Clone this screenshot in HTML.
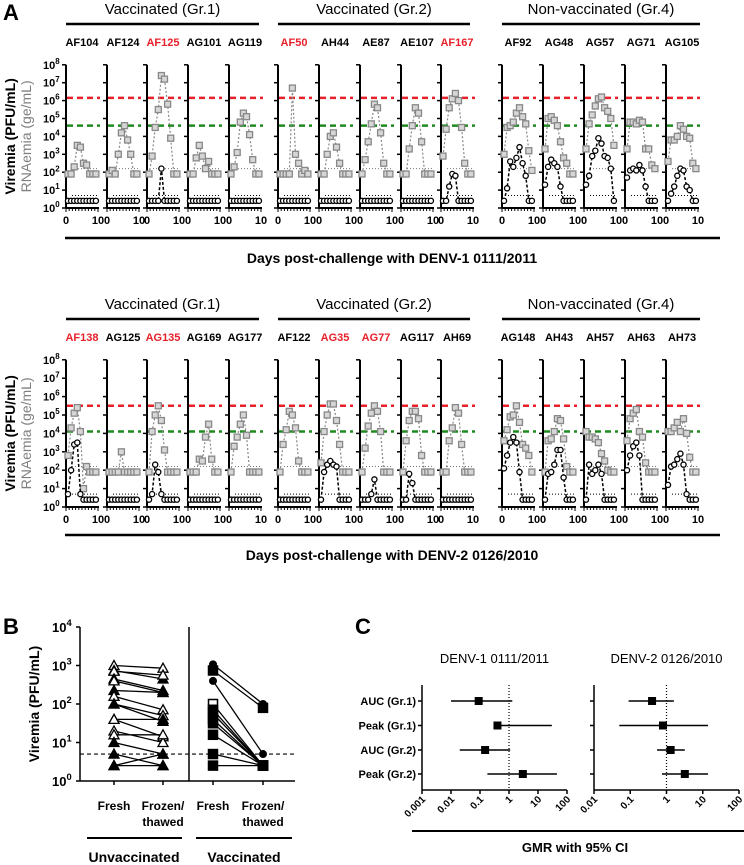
<!DOCTYPE html>
<html><head><meta charset="utf-8"><style>
body{margin:0;background:#fff}
svg{display:block;font-family:"Liberation Sans",Arial,sans-serif}
</style></head><body>
<svg id="fig" width="744" height="865" viewBox="0 0 744 865" xmlns="http://www.w3.org/2000/svg"></svg>
<script>
// ---------- Panel A data (log10 values) ----------
const topNames=["AF104","AF124","AF125","AG101","AG119","AF50","AH44","AE87","AE107","AF167","AF92","AG48","AG57","AG71","AG105"];
const topRed=[false,false,true,false,false,true,false,false,false,true,false,false,false,false,false];
const topRNA=[
[1.9,1.9,2.3,3.5,3.4,2.5,2.4,1.9,1.9,1.9],
[1.9,2.1,1.9,3.0,4.2,4.6,3.8,3.0,1.9,1.9],
[1.9,2.9,4.5,5.5,7.4,7.2,5.8,3.9,1.9,1.9],
[1.9,1.9,2.8,3.5,2.9,2.2,2.6,1.9,1.9,1.9],
[1.9,2.3,3.1,4.8,5.3,5.1,4.1,2.7,1.9,1.9],
[1.9,1.9,1.9,1.9,6.7,3.0,2.5,1.9,2.1,1.9],
[1.9,1.9,3.0,4.0,4.2,3.4,2.5,1.9,1.9,1.9],
[1.9,2.7,3.7,4.7,5.8,5.6,4.2,2.5,1.9,1.9],
[1.9,1.9,3.3,4.6,5.6,5.3,3.7,1.9,1.9,1.9],
[2.9,4.4,5.6,6.1,6.4,6.0,4.5,2.5,1.9,1.9],
[3.0,4.5,4.6,4.8,5.3,5.6,5.1,4.7,3.2,2.1],
[3.3,5.0,5.1,4.9,4.6,3.7,2.8,2.5,1.9,1.9],
[3.3,4.7,5.2,5.7,6.1,6.2,5.6,5.4,5.0,3.5],
[3.3,4.8,4.8,4.7,4.9,4.8,3.3,3.3,2.4,2.2],
[2.6,3.8,3.8,4.0,4.6,4.4,4.0,3.9,2.5,2.2]];
const topVir=[
[.4,.4,.4,.4,.4,.4,.4,.4,.4,.4],
[.4,.4,.4,.4,.4,.4,.4,.4,.4,.4],
[.4,.4,.4,.4,2.2,.4,.4,.4,.4,.4],
[.4,.4,.4,.4,.4,.4,.4,.4,.4,.4],
[.4,.4,.4,.4,.4,.4,.4,.4,.4,.4],
[.4,.4,.4,.4,.4,.4,.4,.4,.4,.4],
[.4,.4,.4,.4,.4,.4,.4,.4,.4,.4],
[.4,.4,.4,.4,.4,.4,.4,.4,.4,.4],
[.4,.4,.4,.4,.4,.4,.4,.4,.4,.4],
[.4,.4,1.2,1.9,1.8,.4,.4,.4,.4,.4],
[.4,1.1,2.6,2.3,2.8,3.4,2.5,1.8,.4,.4],
[1.3,2.3,2.7,2.5,2.3,1.2,.4,.4,.4,.4],
[1.3,1.8,2.9,3.2,3.9,3.6,2.9,2.8,2.2,.4],
[1.7,2.1,2.2,2.1,2.4,2.1,1.2,.4,.4,.4],
[.4,.8,1.2,1.8,2.2,2.1,1.2,1.0,.4,.4]];
const botNames=["AF138","AG125","AG135","AG169","AG177","AF122","AG35","AG77","AG117","AH69","AG148","AH43","AH57","AH63","AH73"];
const botRed=[true,false,true,false,false,false,true,true,false,false,false,false,false,false,false];
const botRNA=[
[2.8,4.3,5.1,5.4,4.1,1.0,2.2,1.9,1.9,1.9],
[1.9,1.9,1.9,1.9,3.0,1.9,1.9,1.9,1.9,1.9],
[1.9,4.1,5.0,5.5,4.7,3.1,1.9,1.9,1.9,1.9],
[1.9,1.9,1.9,2.6,2.5,3.8,4.5,2.6,1.9,1.9],
[1.9,3.3,3.8,4.5,5.0,3.9,1.9,1.9,1.9,1.9],
[1.9,3.4,4.2,5.2,5.0,4.3,2.5,1.9,1.9,1.9],
[2.4,4.1,5.0,5.6,5.6,4.7,3.4,1.9,1.9,1.9],
[1.9,3.2,4.4,5.1,5.5,5.2,4.1,1.9,1.9,1.9],
[1.9,3.6,4.7,5.2,5.2,4.8,2.8,1.9,1.9,1.9],
[1.9,1.9,3.6,4.3,5.4,5.1,3.4,1.9,1.9,1.9],
[3.6,4.2,4.9,5.0,5.5,4.6,3.4,3.2,2.8,1.9],
[1.9,3.6,3.7,4.1,4.8,4.7,3.7,2.2,1.9,1.9],
[4.1,3.8,3.8,3.7,3.5,2.9,2.5,2.0,1.9,1.9],
[3.6,4.8,5.1,5.3,4.1,3.8,2.4,1.9,1.9,1.9],
[4.1,4.1,4.3,4.6,4.1,4.8,4.0,2.7,1.9,1.9]];
const botVir=[
[.7,2.0,3.4,3.5,.7,.4,.4,.4,.4,.4],
[.4,.4,.4,.4,.4,.4,.4,.4,.4,.4],
[.4,.7,2.3,1.9,.7,.4,.4,.4,.4,.4],
[.4,.4,.4,.4,.4,.4,.4,.4,.4,.4],
[.4,.4,.4,.4,.4,.4,.4,.4,.4,.4],
[.4,.4,.4,.4,.4,.4,.4,.4,.4,.4],
[.4,1.9,2.3,2.5,2.3,2.2,.4,.4,.4,.4],
[.4,.4,.4,.7,1.5,.4,.4,.4,.4,.4],
[.4,.4,1.8,1.3,.4,.4,.4,.4,.4,.4],
[.4,.4,.4,.4,.4,.4,.4,.4,.4,.4],
[2.1,2.8,3.5,3.8,3.5,1.9,.4,.4,.4,.4],
[.4,1.8,1.9,2.3,3.1,3.1,1.6,.4,.4,.4],
[.4,2.3,1.8,2.0,2.3,1.8,.4,.4,.4,.4],
[2.0,2.8,3.3,3.5,2.8,.4,.4,.4,.4,.4],
[1.2,2.2,2.3,2.6,2.9,2.3,.7,.4,.4,.4]];
const days=[1,2,3,4,5,6,7,8,9,10];
const topThresh=[6.15,4.6];
const botThresh=[5.5,4.1];
// ---------- Panel B data (log10) ----------
const bUnvFresh=[3.0,2.87,2.85,2.65,2.6,2.35,2.2,2.0,2.0,1.6,1.6,1.3,1.2,1.0,0.7,0.4,0.4];
const bUnvFrozen=[2.93,2.65,2.75,2.35,2.3,2.3,1.85,1.7,1.55,1.6,1.15,1.0,1.2,0.7,0.4,0.7,0.4];
const bUnvShape=["to","tf","to","tf","to","tf","to","to","tf","tf","to","to","to","tf","tf","tf","tf"];
const bVacFresh=[3.03,2.87,2.6,2.0,1.85,1.75,1.6,1.5,1.2,0.7,0.4];
const bVacFrozen=[2.0,1.9,0.7,0.4,0.4,0.4,0.4,0.4,0.4,0.4,0.4];
const bVacShape=["c","s","c","so","s","s","s","s","s","s","s"];
const bLOD=0.7;
// ---------- Panel C data ----------
const cRows=["AUC (Gr.1)","Peak (Gr.1)","AUC (Gr.2)","Peak (Gr.2)"];
const c1Est=[0.09,0.4,0.15,3];
const c1Lo=[0.01,0.4,0.02,0.18];
const c1Hi=[1.3,30,1.1,45];
const c2Est=[0.4,0.8,1.3,3.2];
const c2Lo=[0.09,0.05,0.55,0.75];
const c2Hi=[1.6,14,3.2,14];

const S=document.getElementById('fig');
const NS="http://www.w3.org/2000/svg";
function mk(tag,attrs,parent){const e=document.createElementNS(NS,tag);for(const k in attrs)e.setAttribute(k,attrs[k]);(parent||S).appendChild(e);return e;}
function txt(x,y,s,attrs,parent){const t=mk('text',Object.assign({x:x,y:y},attrs),parent);t.textContent=s;return t;}
function pow(x,y,e,size,anchorEnd,parent){const t=mk('text',{x:x,y:y,'font-size':size,'font-weight':'bold','text-anchor':anchorEnd?'end':'start'},parent);
 const a=mk('tspan',{},t);a.textContent='10';const b=mk('tspan',{dy:-size*0.45,'font-size':size*0.72},t);b.textContent=String(e);return t;}

// Panel letters
let L;
L=txt(3,20,"A",{'font-size':22,'font-weight':'bold'});

L=txt(3,634,"B",{'font-size':22,'font-weight':'bold'});

L=txt(355,634,"C",{'font-size':22,'font-weight':'bold'});


const axesX=[66,107,147,188,229,278,319,360,401,441,502,543,584,625,666];
function drawRow(cfg){
 const g=mk('g',{});
 
 
 const y0=cfg.y0,dec=cfg.dec;
 const Y=v=>y0-v*dec;
 const X=(i,d)=>axesX[i]+2+(d-1)*3.1;
 const groups=[["Vaccinated (Gr.1)",66,259],["Vaccinated (Gr.2)",278,470],["Non-vaccinated (Gr.4)",502,700]];
 groups.forEach(gr=>{
  const t=txt((gr[1]+gr[2])/2,cfg.ty,gr[0],{'font-size':15,'text-anchor':'middle'},g);
  
  
  const l=mk('line',{x1:gr[1],x2:gr[2],y1:cfg.ty+10,y2:cfg.ty+10,stroke:'#000','stroke-width':2.5},g);
  
  
 });
 const v1=txt(0,0,"Viremia (PFU/mL)",{'font-size':14,'font-weight':'bold','text-anchor':'middle',transform:`translate(15,${y0-4*dec}) rotate(-90)`},g);
 
 
 const v2=txt(0,0,"RNAemia (ge/mL)",{'font-size':14,fill:'#808080','text-anchor':'middle',transform:`translate(31,${y0-4*dec}) rotate(-90)`},g);
 
 
 for(let e=0;e<=8;e++){const t=pow(43,Y(e)+4,e,11,false,g);}
 cfg.names.forEach((nm,i)=>{
  const x0=axesX[i];
  const sub=mk('g',{},g);
  
  
  const lab=txt(x0+16,cfg.ty+32,nm,{'font-size':11,'font-weight':'bold','text-anchor':'middle',fill:cfg.red[i]?'#e8202a':'#000'},sub);
  
  
  mk('line',{x1:x0,x2:x0,y1:Y(8),y2:Y(0),stroke:'#000','stroke-width':2},sub);
  mk('line',{x1:x0,x2:x0+33,y1:Y(0),y2:Y(0),stroke:'#000','stroke-width':2},sub);
  for(let e=0;e<=8;e++)mk('line',{x1:x0-4,x2:x0,y1:Y(e),y2:Y(e),stroke:'#000','stroke-width':1.5},sub);
  for(let d=0;d<=10;d++)mk('line',{x1:x0+d*3.2,x2:x0+d*3.2,y1:Y(0),y2:Y(0)+(d%10==0?4:3),stroke:'#000','stroke-width':1},sub);
  txt(x0,Y(0)+16,"0",{'font-size':11,'font-weight':'bold','text-anchor':'middle'},sub);
  txt(x0+32,Y(0)+16,"10",{'font-size':11,'font-weight':'bold','text-anchor':'middle'},sub);
  const r=mk('line',{x1:x0+1,x2:x0+34,y1:Y(cfg.th[0]),y2:Y(cfg.th[0]),stroke:'#e8202a','stroke-width':2.5,'stroke-dasharray':'6,4'},sub);
  
  
  const gl=mk('line',{x1:x0+1,x2:x0+34,y1:Y(cfg.th[1]),y2:Y(cfg.th[1]),stroke:'#1f8a1f','stroke-width':2.5,'stroke-dasharray':'6,4'},sub);
  
  
  mk('line',{x1:x0+6,x2:x0+32,y1:Y(2.2),y2:Y(2.2),stroke:'#777','stroke-width':1,'stroke-dasharray':'1,2'},sub);
  mk('line',{x1:x0+6,x2:x0+32,y1:Y(0.7),y2:Y(0.7),stroke:'#000','stroke-width':1,'stroke-dasharray':'1,2'},sub);
  const rna=cfg.rna[i],vir=cfg.vir[i];
  const rp=mk('polyline',{points:days.map((d,k)=>X(i,d)+','+Y(rna[k])).join(' '),fill:'none',stroke:'#888','stroke-width':1.2,'stroke-dasharray':'2,2'},sub);
  
  
  days.forEach((d,k)=>{const m=mk('rect',{x:X(i,d)-3,y:Y(rna[k])-3,width:6,height:6,fill:'#d6d6d6',stroke:'#888','stroke-width':1.3},sub);
   });
  const vp=mk('polyline',{points:days.map((d,k)=>X(i,d)+','+Y(vir[k])).join(' '),fill:'none',stroke:'#000','stroke-width':1.5,'stroke-dasharray':'3,2'},sub);
  
  
  days.forEach((d,k)=>{const m=mk('circle',{cx:X(i,d),cy:Y(vir[k]),r:2.6,fill:'#fff',stroke:'#000','stroke-width':1.3},sub);
   });
 });
 const bl=mk('line',{x1:65,x2:720,y1:cfg.by,y2:cfg.by,stroke:'#000','stroke-width':2.5},g);
 
 
 const xt=txt(392,cfg.by+25,cfg.xtitle,{'font-size':14,'font-weight':'bold','text-anchor':'middle'},g);
 
 
}
drawRow({name:'panel-a-denv1',y0:208,dec:17.9,ty:14,names:topNames,red:topRed,rna:topRNA,vir:topVir,th:topThresh,by:238,xtitle:"Days post-challenge with DENV-1 0111/2011"});
drawRow({name:'panel-a-denv2',y0:507,dec:18.4,ty:309,names:botNames,red:botRed,rna:botRNA,vir:botVir,th:botThresh,by:535,xtitle:"Days post-challenge with DENV-2 0126/2010"});

// ---------- Panel B ----------
(function(){
 const g=mk('g',{});
 
 
 const Y=v=>781-v*38.5;
 const xs=[114,163,213,263];
 mk('line',{x1:80,x2:80,y1:Y(4),y2:Y(0),stroke:'#000','stroke-width':1.5},g);
 mk('line',{x1:80,x2:295,y1:Y(0),y2:Y(0),stroke:'#000','stroke-width':1.5},g);
 mk('line',{x1:189,x2:189,y1:Y(4),y2:Y(0),stroke:'#000','stroke-width':1.5},g);
 for(let e=0;e<=4;e++){mk('line',{x1:76,x2:80,y1:Y(e),y2:Y(e),stroke:'#000','stroke-width':1.5},g);
  const t=pow(52,Y(e)+5,e,13,false,g);}
 xs.forEach(x=>mk('line',{x1:x,x2:x,y1:Y(0),y2:Y(0)+4,stroke:'#000','stroke-width':1.5},g));
 const yt=txt(0,0,"Viremia (PFU/mL)",{'font-size':14,'font-weight':'bold','text-anchor':'middle',transform:`translate(39,${Y(2)}) rotate(-90)`},g);
 
 
 const lod=mk('line',{x1:80,x2:295,y1:Y(bLOD),y2:Y(bLOD),stroke:'#000','stroke-width':1.2,'stroke-dasharray':'4,3'},g);
 
 
 function marker(shape,x,y){
  let m;
  if(shape[0]=='t'){m=mk('polygon',{points:`${x},${y-5} ${x-5},${y+4} ${x+5},${y+4}`,fill:shape=='tf'?'#000':'#fff',stroke:'#000','stroke-width':1.3},g);}
  else if(shape=='c'){m=mk('circle',{cx:x,cy:y,r:4,fill:'#000'},g);}
  else{m=mk('rect',{x:x-4.5,y:y-4.5,width:9,height:9,fill:shape=='so'?'#fff':'#000',stroke:'#000','stroke-width':1.5},g);}
  
  
 }
 bUnvFresh.forEach((v,i)=>{const l=mk('line',{x1:xs[0],x2:xs[1],y1:Y(v),y2:Y(bUnvFrozen[i]),stroke:'#000','stroke-width':1.3},g);
  });
 bVacFresh.forEach((v,i)=>{const l=mk('line',{x1:xs[2],x2:xs[3],y1:Y(v),y2:Y(bVacFrozen[i]),stroke:'#000','stroke-width':1.3},g);
  });
 bUnvFresh.forEach((v,i)=>{marker(bUnvShape[i],xs[0],Y(v));marker(bUnvShape[i],xs[1],Y(bUnvFrozen[i]));});
 bVacFresh.forEach((v,i)=>{marker(bVacShape[i],xs[2],Y(v));marker(bVacShape[i],xs[3],Y(bVacFrozen[i]));});
 [[114,"Fresh"],[163,"Frozen/"],[213,"Fresh"],[263,"Frozen/"]].forEach(a=>{const t=txt(a[0],810,a[1],{'font-size':12,'font-weight':'bold','text-anchor':'middle'},g);});
 [[163,"thawed"],[263,"thawed"]].forEach(a=>{txt(a[0],826,a[1],{'font-size':12,'font-weight':'bold','text-anchor':'middle'},g);});
 mk('line',{x1:87,x2:182,y1:838,y2:838,stroke:'#000','stroke-width':2},g);
 mk('line',{x1:196,x2:292,y1:838,y2:838,stroke:'#000','stroke-width':2},g);
 const u=txt(134,862,"Unvaccinated",{'font-size':14,'font-weight':'bold','text-anchor':'middle'},g);
 
 const v=txt(244,862,"Vaccinated",{'font-size':14,'font-weight':'bold','text-anchor':'middle'},g);
 
})();

// ---------- Panel C ----------
(function(){
 const rowsY=[701,725.5,750,774];
 function forest(name,x0,x1,minE,maxE,est,lo,hi,title,labels){
  const g=mk('g',{});
  
  
  const X=v=>x0+(Math.log10(v)-minE)/(maxE-minE)*(x1-x0);
  const t=txt((x0+x1)/2,663,title,{'font-size':13,'text-anchor':'middle'},g);
  
  mk('line',{x1:x0,x2:x0,y1:685,y2:790,stroke:'#000','stroke-width':1.5},g);
  mk('line',{x1:x0,x2:x1,y1:790,y2:790,stroke:'#000','stroke-width':1.5},g);
  for(let e=minE;e<=maxE;e++){const x=x0+(e-minE)/(maxE-minE)*(x1-x0);
   mk('line',{x1:x,x2:x,y1:790,y2:794,stroke:'#000','stroke-width':1.5},g);
   const lbl=e<0?String(Math.pow(10,e).toFixed(-e)):String(Math.pow(10,e));
   const tl=txt(0,0,lbl,{'font-size':10,'font-weight':'bold','text-anchor':'end',transform:`translate(${x+4},${800}) rotate(-45)`},g);
   }
  mk('line',{x1:X(1),x2:X(1),y1:685,y2:790,stroke:'#000','stroke-width':1.2,'stroke-dasharray':'1,2'},g);
  rowsY.forEach((y,i)=>{
   mk('line',{x1:x0-4,x2:x0,y1:y,y2:y,stroke:'#000','stroke-width':1.5},g);
   if(labels){const rl=txt(x0-6,y+4,cRows[i],{'font-size':11,'font-weight':'bold','text-anchor':'end'},g);}
   const ci=mk('line',{x1:X(lo[i]),x2:X(hi[i]),y1:y,y2:y,stroke:'#000','stroke-width':1.6},g);
   
   const p=mk('rect',{x:X(est[i])-4,y:y-4,width:8,height:8,fill:'#000'},g);
   
  });
 }
 forest('forest-denv1',422,567,-3,2,c1Est,c1Lo,c1Hi,"DENV-1 0111/2011",true);
 forest('forest-denv2',594,739,-2,2,c2Est,c2Lo,c2Hi,"DENV-2 0126/2010",false);
 const l=mk('line',{x1:412,x2:744,y1:831,y2:831,stroke:'#000','stroke-width':2});
 
 const t=txt(575,852,"GMR with 95% CI",{'font-size':13,'font-weight':'bold','text-anchor':'middle'});
 
})();
</script>
</body></html>
